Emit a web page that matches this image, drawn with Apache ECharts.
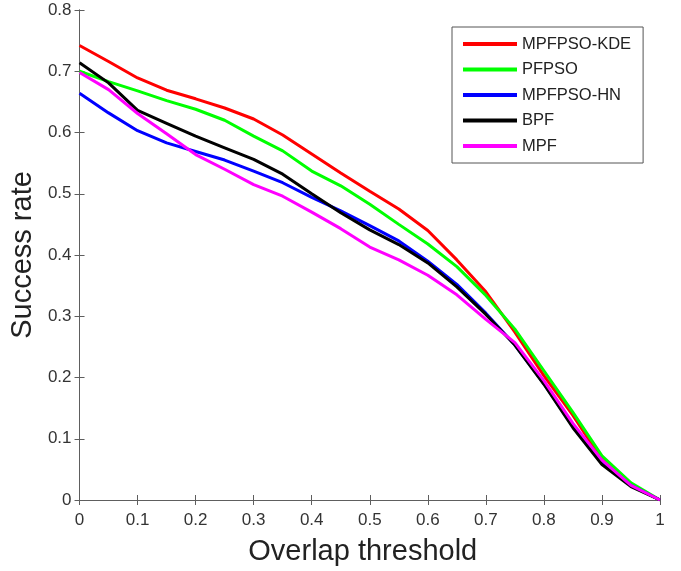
<!DOCTYPE html>
<html>
<head>
<meta charset="utf-8">
<script src="https://cdn.jsdelivr.net/npm/echarts@6/dist/echarts.min.js"></script>
<style>
  html, body { margin: 0; padding: 0; background: #fff; }
  #chart { width: 681px; height: 571px; }
</style>
</head>
<body>
<div id="chart"></div>
<script>
// overlap thresholds, 0 .. 1 step 0.05
var thresholds = [0, 0.05, 0.1, 0.15, 0.2, 0.25, 0.3, 0.35, 0.4, 0.45, 0.5,
  0.55, 0.6, 0.65, 0.7, 0.75, 0.8, 0.85, 0.9, 0.95, 1];

// success rate per method
var mpfpsoKde = [0.742, 0.716, 0.689, 0.669, 0.655, 0.640, 0.622, 0.596, 0.565, 0.534, 0.504,
  0.475, 0.440, 0.392, 0.340, 0.274, 0.203, 0.138, 0.066, 0.025, 0];
var pfpso = [0.700, 0.683, 0.668, 0.652, 0.638, 0.620, 0.594, 0.570, 0.537, 0.513, 0.483,
  0.450, 0.418, 0.381, 0.334, 0.279, 0.211, 0.143, 0.072, 0.028, 0];
var mpfpsoHn = [0.664, 0.632, 0.603, 0.583, 0.569, 0.555, 0.537, 0.518, 0.494, 0.472, 0.448,
  0.423, 0.390, 0.352, 0.305, 0.253, 0.190, 0.120, 0.062, 0.024, 0];
var bpf = [0.714, 0.681, 0.636, 0.615, 0.594, 0.575, 0.556, 0.532, 0.500, 0.469, 0.441,
  0.417, 0.387, 0.348, 0.303, 0.253, 0.189, 0.118, 0.058, 0.022, 0];
var mpf = [0.698, 0.670, 0.631, 0.598, 0.564, 0.540, 0.515, 0.496, 0.470, 0.443, 0.413,
  0.392, 0.367, 0.335, 0.295, 0.257, 0.195, 0.125, 0.065, 0.024, 0];

var names = ['MPFPSO-KDE', 'PFPSO', 'MPFPSO-HN', 'BPF', 'MPF'];
var colors = ['#ff0000', '#00ff00', '#0000ff', '#000000', '#ff00ff'];
var values = [mpfpsoKde, pfpso, mpfpsoHn, bpf, mpf];

var font = 'Liberation Sans, Arial, sans-serif';
var axisGray = '#5e5e5e';

function pairs(ys) {
  return thresholds.map(function (x, i) { return [x, ys[i]]; });
}

var series = names.map(function (n, i) {
  return {
    name: n,
    type: 'line',
    data: pairs(values[i]),
    showSymbol: false,
    symbol: 'none',
    lineStyle: { width: 3, color: colors[i] },
    itemStyle: { color: colors[i] }
  };
});

// box axes (top / right) only draw line + ticks
function boxAxis(pos, min, max) {
  return {
    type: 'value', position: pos, min: min, max: max, interval: 0.1,
    axisLine: { show: true, lineStyle: { color: axisGray, width: 1 } },
    axisTick: { show: true, inside: true, length: 5, lineStyle: { color: axisGray } },
    axisLabel: { show: false },
    splitLine: { show: false }
  };
}

var chart = echarts.init(document.getElementById('chart'));
chart.setOption({
  animation: false,
  backgroundColor: '#fff',
  grid: { left: 78, right: 21, top: 10, bottom: 70 },
  legend: {
    data: names,
    orient: 'vertical',
    left: 452, top: 27,
    icon: 'rect',
    itemWidth: 54, itemHeight: 4,
    itemGap: 5.5,
    padding: [7, 12, 7, 11],
    backgroundColor: '#fff',
    borderColor: '#555',
    borderWidth: 1,
    textStyle: { fontFamily: font, fontSize: 16.5, color: '#222', lineHeight: 20 }
  },
  xAxis: [{
    type: 'value', min: 0, max: 1, interval: 0.1,
    name: 'Overlap threshold', nameLocation: 'middle', nameGap: 37,
    nameTextStyle: { fontFamily: font, fontSize: 29, color: '#222', padding: [0, 14, 0, 0] },
    axisLine: { show: true, lineStyle: { color: axisGray, width: 1 } },
    axisTick: { show: true, inside: true, length: 5, lineStyle: { color: axisGray } },
    axisLabel: { fontFamily: font, fontSize: 17, color: '#333', margin: 12 },
    splitLine: { show: false }
  }, boxAxis('top', 0, 1)],
  yAxis: [{
    type: 'value', min: 0, max: 0.8, interval: 0.1,
    name: 'Success rate', nameLocation: 'middle', nameGap: 38,
    nameTextStyle: { fontFamily: font, fontSize: 29, color: '#222' },
    axisLine: { show: true, lineStyle: { color: axisGray, width: 1 } },
    axisTick: { show: true, inside: true, length: 5, lineStyle: { color: axisGray } },
    axisLabel: { fontFamily: font, fontSize: 17, color: '#333', margin: 8 },
    splitLine: { show: false }
  }, boxAxis('right', 0, 0.8)],
  series: series
});
</script>
</body>
</html>
